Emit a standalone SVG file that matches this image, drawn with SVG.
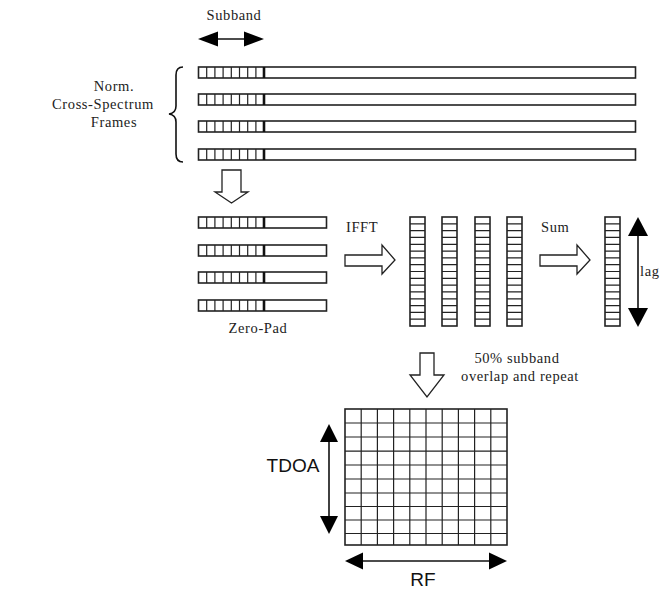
<svg xmlns="http://www.w3.org/2000/svg" width="665" height="590" viewBox="0 0 665 590">
<style>
.s{font-family:"Liberation Serif","DejaVu Serif","Times New Roman",serif;font-size:14.5px;fill:#222;letter-spacing:0.6px}
.a{font-family:"Liberation Sans",Arial,sans-serif;font-size:19px;fill:#111}
.bar{fill:#fff;stroke:#222;stroke-width:1.6}
.cell{fill:none;stroke:#222;stroke-width:1.2}
.thick{stroke:#111;stroke-width:2.6}
.hol{fill:#fff;stroke:#222;stroke-width:1.3;stroke-linejoin:miter}
.ln{stroke:#111;stroke-width:1.6;fill:none}
.hd{fill:#000}
</style>
<defs>
<g id="cells8">
<path class="cell" d="M206.7,0v11M214.9,0v11M223.1,0v11M231.3,0v11M239.5,0v11M247.7,0v11M255.9,0v11"/>
<path class="thick" d="M264,0v11"/>
</g>
<g id="col">
<rect class="bar" x="0" y="0" width="15" height="109"/>
<path class="cell" d="M0,6.8h15M0,13.6h15M0,20.4h15M0,27.3h15M0,34.1h15M0,40.9h15M0,47.7h15M0,54.5h15M0,61.3h15M0,68.1h15M0,74.9h15M0,81.8h15M0,88.6h15M0,95.4h15M0,102.2h15"/>
</g>
</defs>

<g id="labels-left">
<text class="s" x="114" y="91" text-anchor="middle">Norm.</text>
<text class="s" x="103" y="109" text-anchor="middle" font-size="14" letter-spacing="0.5">Cross-Spectrum</text>
<text class="s" x="114" y="127" text-anchor="middle">Frames</text>
<path class="ln" stroke-width="1.3" d="M183,67 Q176,67 176,75 L176,106 Q176,113 169,114 Q176,115 176,122 L176,154 Q176,162 183,162"/>
</g>

<g id="subband">
<text class="s" x="234" y="20" text-anchor="middle" letter-spacing="1.5">Subband</text>
<line class="ln" x1="210" y1="39" x2="252" y2="39"/>
<polygon class="hd" points="198,39 218,31.5 218,46.5"/>
<polygon class="hd" points="264,39 244,31.5 244,46.5"/>
</g>

<g id="frames">
<rect class="bar" x="198.5" y="67" width="437" height="11"/>
<use href="#cells8" y="67"/>
<rect class="bar" x="198.5" y="94" width="437" height="11"/>
<use href="#cells8" y="94"/>
<rect class="bar" x="198.5" y="121" width="437" height="11"/>
<use href="#cells8" y="121"/>
<rect class="bar" x="198.5" y="149" width="437" height="11"/>
<use href="#cells8" y="149"/>
</g>

<g id="zeropad">
<rect class="bar" x="198.5" y="217" width="128" height="11"/>
<use href="#cells8" y="217"/>
<rect class="bar" x="198.5" y="245" width="128" height="11"/>
<use href="#cells8" y="245"/>
<rect class="bar" x="198.5" y="272" width="128" height="11"/>
<use href="#cells8" y="272"/>
<rect class="bar" x="198.5" y="300" width="128" height="11"/>
<use href="#cells8" y="300"/>
<text class="s" x="258" y="333" text-anchor="middle">Zero-Pad</text>
</g>

<g id="ifft-cols">
<use href="#col" x="410" y="217"/>
<use href="#col" x="442" y="217"/>
<use href="#col" x="475" y="217"/>
<use href="#col" x="507" y="217"/>
</g>

<g id="sum-col">
<use href="#col" x="605" y="217"/>
</g>

<g id="lag">
<line class="ln" x1="638" y1="232" x2="638" y2="312"/>
<polygon class="hd" points="638,217 628,236 648,236"/>
<polygon class="hd" points="638,327 628,308 648,308"/>
<text class="s" x="640" y="276">lag</text>
</g>

<g id="grid">
<rect class="bar" x="345" y="409" width="162" height="136"/>
<path class="cell" d="M361.2,409v136M377.4,409v136M393.6,409v136M409.8,409v136M426,409v136M442.2,409v136M458.4,409v136M474.6,409v136M490.8,409v136M345,423h162M345,437h162M345,451.2h162M345,465h162M345,479h162M345,493h162M345,506.5h162M345,520h162M345,533.5h162"/>
</g>

<g id="tdoa">
<line class="ln" x1="329" y1="438" x2="329" y2="520"/>
<polygon class="hd" points="329,424 320,442 338,442"/>
<polygon class="hd" points="329,534 320,516 338,516"/>
<text class="a" x="293" y="472" text-anchor="middle" font-size="18.5">TDOA</text>
</g>

<g id="rf">
<line class="ln" x1="358" y1="561" x2="494" y2="561"/>
<polygon class="hd" points="345,561 363,552.5 363,569.5"/>
<polygon class="hd" points="507,561 489,552.5 489,569.5"/>
<text class="a" x="423" y="586" text-anchor="middle" font-size="20">RF</text>
</g>

<g id="connectors">
<polygon class="hol" points="222,170 241,170 241,192 248,192 231.5,203 215,192 222,192"/>
<polygon class="hol" points="345,255 382,255 382,245 395,260 382,274 382,266 345,266"/>
<text class="s" x="346" y="232" letter-spacing="1.5">IFFT</text>
<polygon class="hol" points="540,255 577,255 577,245 590,260 577,274 577,266 540,266"/>
<text class="s" x="541" y="232" letter-spacing="1.7">Sum</text>
<polygon class="hol" points="420,353 434,353 434,375 444,375 427,397 410,375 420,375"/>
<text class="s" x="517" y="363" text-anchor="middle">50% subband</text>
<text class="s" x="520" y="381" text-anchor="middle" letter-spacing="0.3">overlap and repeat</text>
</g>
</svg>
